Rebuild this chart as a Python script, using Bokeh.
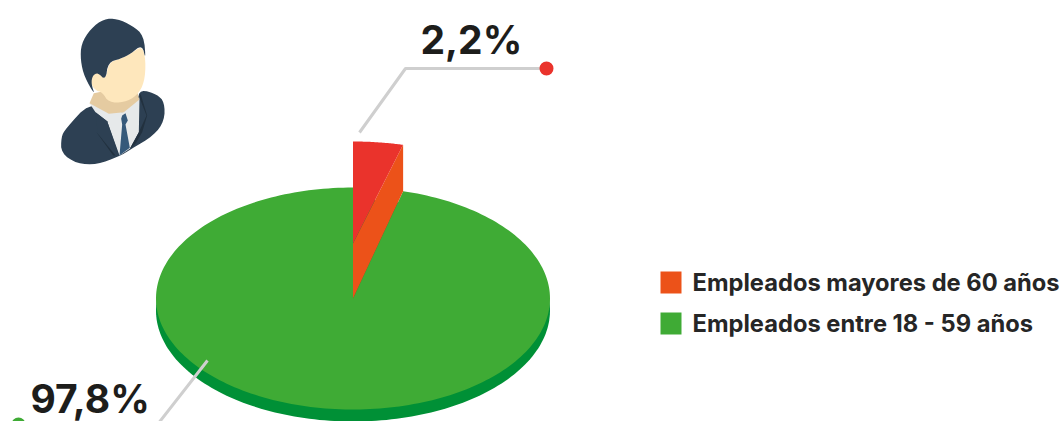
import numpy as np
from bokeh.plotting import figure
from bokeh.models import Range1d
from bokeh.core.properties import value
from bokeh.embed import file_html
from bokeh.resources import INLINE

# --- data ---
categories = ["Empleados mayores de 60 años", "Empleados entre 18 - 59 años"]
shares = [2.2, 97.8]
share_labels = ["2,2%", "97,8%"]
top_colors = ["#ea332c", "#3fab35"]
side_colors = ["#ec5219", "#009036"]
legend_colors = ["#ec5219", "#3fab35"]

# --- pie geometry (page pixels) ---
CX, CY, RX, RY = 352.5, 298, 197, 111
DEPTH = 12
LIFT, LIFT_RY = 55, 102
VIEW_STRETCH = 1.86   # the reference's perspective widens the small slice

FONT = value("Inter")
INK = "#1d1d1b"

p = figure(width=1063, height=421, output_backend="svg", toolbar_location=None,
           x_range=Range1d(0, 1063), y_range=Range1d(421, 0), min_border=0,
           outline_line_color=None, background_fill_color="white")
p.axis.visible = False
p.grid.visible = False


def arc(t0, t1, cx=CX, cy=CY, ry=RY, n=240):
    t = np.linspace(t0, t1, n)
    return cx + RX * np.sin(t), cy - ry * np.cos(t)


sweep = np.radians(shares[0] * 3.6 * VIEW_STRETCH)

# pie side + large slice
x, y = arc(0, 2 * np.pi)
p.patch(x, y + DEPTH, color=side_colors[1], line_width=0)
x, y = arc(sweep, 2 * np.pi)
p.patch(np.r_[CX, x], np.r_[CY, y], color=top_colors[1], line_width=0)

# lifted small slice
ax, ay = arc(sweep, sweep, n=1)
tx, ty = arc(0, sweep, cy=CY - LIFT, ry=LIFT_RY, n=40)
p.patch([CX, CX, tx[-1], ax[0]], [CY, CY - LIFT, ty[-1], ay[0]],
        color=side_colors[0], line_width=0)
p.patch(np.r_[CX, tx], np.r_[CY - LIFT, ty], color=top_colors[0], line_width=0)

# leader lines, dots, labels
GREY = "#cfcfcf"
p.line([359, 405, 546], [132, 68, 68], line_color=GREY, line_width=3)
p.line([207, 157, 18], [360, 424, 424], line_color=GREY, line_width=3)
p.scatter([546, 18], [68, 424], size=14, color=[top_colors[0], top_colors[1]], line_width=0)
p.text([420, 30], [38.5, 398], text=share_labels, text_font=FONT, text_font_style="bold",
       text_font_size="39px", text_color=INK, text_baseline="alphabetic", text_align="left")

# legend
p.rect([670.5, 670.5], [282, 323], width=21, height=22, color=legend_colors, line_width=0)
p.text([692, 692], [282, 323], text=categories, text_font=FONT, text_font_style="bold",
       text_font_size="23.7px", text_color="#262626", text_baseline="alphabetic", text_align="left")


# --- person icon (decoration, drawn from a 3x sketch grid) ---
def chaikin(pts, rounds=2):
    pts = np.array(pts, dtype=float)
    for _ in range(rounds):
        nxt = np.roll(pts, -1, axis=0)
        pts = np.column_stack([0.75 * pts + 0.25 * nxt, 0.25 * pts + 0.75 * nxt]).reshape(-1, 2)
    return pts


def icon(pts, color, smooth=True):
    pts = chaikin(pts) if smooth else np.array(pts, dtype=float)
    p.patch(40 + pts[:, 0] / 3, pts[:, 1] / 3, color=color, line_width=0)


SUIT, SUIT_DK, SKIN, NECK, SHIRT, TIE = "#2d4053", "#22313f", "#fee7bc", "#e5cba1", "#e6e9ea", "#35597a"
icon([(147, 306), (75, 385), (62, 410), (62, 458), (110, 490), (170, 492), (235, 468), (270, 447),
      (340, 405), (372, 360), (372, 305), (350, 282), (300, 266), (290, 300), (200, 340)], SUIT)
icon([(147, 308), (165, 335), (200, 362), (237, 465), (268, 445), (295, 395), (297, 290), (245, 335)], SHIRT, False)
icon([(147, 308), (160, 278), (200, 270), (292, 278), (296, 298), (250, 335), (205, 340)], NECK, False)
icon([(165, 335), (172, 400), (225, 465), (235, 465), (200, 362)], SUIT, False)
icon([(297, 292), (318, 345), (295, 395), (268, 445), (285, 430), (305, 395), (320, 345), (300, 280)], SUIT_DK, False)
icon([(168, 395), (172, 400), (225, 465), (218, 465)], SUIT_DK, False)
icon([(245, 345), (255, 338), (262, 360), (255, 372), (268, 442), (237, 465), (245, 372), (242, 355)], TIE, False)
icon([(205, 185), (240, 175), (270, 160), (305, 135), (316, 180), (312, 245), (290, 285), (250, 306),
      (205, 306), (185, 275), (165, 270), (148, 245), (152, 220), (172, 212), (195, 240)], SKIN)
icon([(122, 130), (150, 85), (190, 55), (230, 55), (275, 75), (310, 105), (316, 180), (305, 132),
      (270, 160), (240, 175), (203, 185), (195, 240), (172, 216), (156, 225), (152, 250), (164, 285),
      (132, 230), (120, 180)], SUIT)

open("out.html", "w").write(file_html(p, INLINE))
